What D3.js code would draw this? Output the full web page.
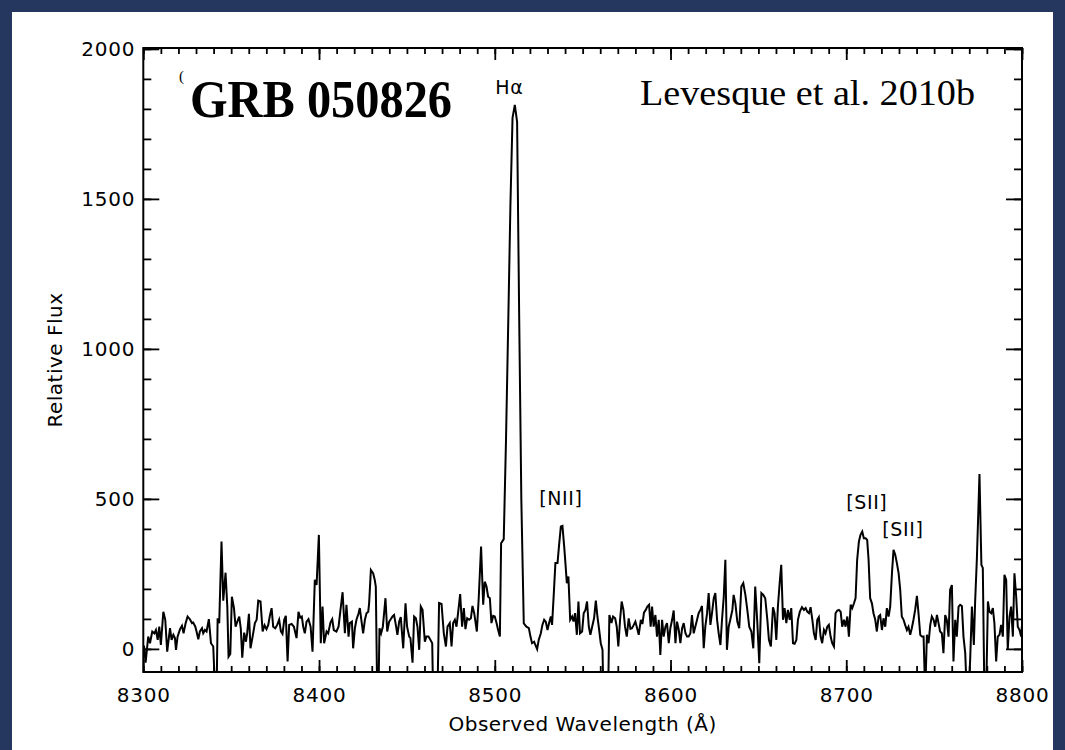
<!DOCTYPE html>
<html><head><meta charset="utf-8">
<script src="https://cdn.jsdelivr.net/npm/d3@7"></script>
<style>body{margin:0;background:#25365f;} svg{display:block}</style>
</head><body>
<svg id="c" width="1065" height="750"></svg>
<script>
// Observed wavelength (Å) of each traced vertex
const wavelength = [
8300.4,8301.3,8302.8,8303.8,8305.1,8306.3,8307.2,8308.2,8309.1,8310.0,8311.4,8312.5,8313.6,8315.2,8316.1,8317.1,8318.0,8318.6,8319.5,8320.9,
8322.0,8322.9,8324.1,8325.2,8326.5,8327.7,8328.4,8329.6,8330.3,8331.3,8332.2,8333.4,8334.1,8335.1,8336.0,8337.3,8338.5,8339.8,8340.9,8341.7,
8342.3,8343.2,8344.5,8345.5,8346.8,8347.8,8348.5,8349.5,8350.4,8351.6,8352.5,8353.5,8354.6,8355.5,8356.3,8357.4,8358.4,8359.1,8360.1,8361.0,
8362.2,8363.5,8364.5,8365.4,8366.7,8367.9,8369.0,8370.1,8371.1,8372.0,8373.0,8373.9,8375.1,8376.2,8377.3,8378.3,8379.2,8380.2,8381.1,8382.1,
8383.0,8384.4,8385.7,8387.2,8388.3,8389.3,8390.2,8391.0,8391.9,8392.9,8394.0,8395.2,8396.3,8397.6,8398.6,8399.9,8401.0,8402.0,8402.9,8404.3,
8405.2,8406.5,8407.5,8408.4,8409.9,8411.1,8412.2,8413.4,8414.7,8415.6,8416.8,8417.5,8418.7,8419.4,8420.4,8421.3,8422.5,8423.2,8424.2,8425.1,
8426.1,8427.0,8428.0,8428.5,8429.5,8430.8,8431.7,8432.3,8433.1,8433.8,8434.4,8435.3,8436.3,8437.1,8437.8,8438.8,8439.9,8440.8,8441.8,8442.7,
8443.7,8444.6,8445.6,8446.5,8447.9,8449.2,8450.1,8451.3,8452.0,8453.2,8454.1,8455.1,8456.0,8457.0,8457.9,8458.9,8460.2,8461.1,8462.3,8463.4,
8464.4,8464.9,8467.4,8468.3,8469.7,8471.0,8472.2,8473.1,8474.4,8475.4,8476.3,8477.3,8478.2,8479.2,8480.3,8481.4,8482.4,8483.3,8484.3,8485.4,
8486.4,8487.3,8488.3,8489.8,8490.9,8492.2,8493.4,8494.3,8495.3,8496.2,8497.2,8498.1,8499.1,8500.0,8501.0,8501.9,8502.9,8503.6,8505.1,8506.4,
8507.7,8508.9,8510.1,8511.4,8512.7,8513.9,8515.1,8516.5,8518.0,8519.4,8520.3,8521.2,8522.4,8523.1,8524.1,8525.0,8526.2,8527.1,8528.1,8529.0,
8530.0,8530.9,8531.9,8532.6,8533.6,8534.5,8535.7,8536.6,8537.6,8538.5,8539.5,8540.2,8541.0,8541.9,8542.9,8544.0,8544.8,8545.7,8546.7,8547.6,
8548.5,8549.7,8550.6,8551.6,8552.5,8553.5,8554.4,8555.4,8556.5,8557.5,8558.4,8559.4,8560.3,8561.3,8561.8,8564.5,8565.2,8566.4,8567.3,8568.5,
8569.4,8570.3,8571.3,8572.2,8573.2,8574.1,8575.1,8576.2,8577.2,8578.1,8579.1,8580.0,8581.0,8581.9,8583.1,8584.0,8584.9,8585.9,8586.8,8587.8,
8588.7,8589.5,8590.4,8591.4,8592.3,8593.3,8594.2,8595.2,8596.1,8597.1,8598.0,8599.0,8599.9,8600.9,8601.8,8602.8,8603.7,8604.7,8605.6,8606.6,
8607.5,8608.5,8609.4,8610.3,8611.3,8612.2,8613.2,8614.1,8615.1,8616.0,8617.0,8617.9,8618.9,8619.8,8620.8,8621.7,8622.7,8623.6,8624.6,8625.5,
8626.5,8627.4,8628.4,8629.3,8630.3,8631.2,8632.1,8633.1,8634.0,8635.2,8635.9,8636.9,8638.0,8639.1,8640.3,8641.4,8642.6,8643.7,8644.8,8646.0,
8647.1,8648.2,8649.4,8650.5,8651.7,8652.8,8653.9,8655.1,8656.0,8657.1,8658.3,8659.2,8660.2,8661.1,8662.1,8663.0,8664.0,8664.9,8665.9,8666.8,
8667.8,8668.7,8669.7,8670.6,8671.6,8672.5,8673.6,8674.8,8675.9,8676.9,8677.8,8678.8,8679.7,8680.7,8681.6,8682.6,8683.5,8684.4,8685.4,8686.3,
8687.3,8688.2,8689.2,8690.1,8691.1,8692.0,8693.0,8693.9,8694.9,8695.8,8696.8,8697.7,8698.7,8699.6,8700.6,8701.5,8702.5,8703.4,8704.4,8705.3,
8706.2,8707.2,8708.1,8709.1,8710.0,8711.0,8711.9,8712.7,8713.6,8714.6,8715.5,8716.5,8717.4,8718.4,8719.3,8720.3,8721.2,8722.2,8723.1,8724.1,
8725.0,8726.0,8726.9,8727.9,8728.8,8729.8,8730.7,8731.6,8732.6,8733.5,8734.5,8735.4,8736.4,8737.3,8738.3,8739.2,8740.2,8741.1,8742.1,8743.0,
8744.0,8744.9,8745.9,8746.8,8747.8,8748.7,8749.7,8750.6,8751.6,8752.5,8753.4,8754.4,8755.3,8756.3,8757.2,8758.2,8759.1,8760.1,8761.0,8762.0,
8762.9,8763.9,8764.8,8765.8,8766.7,8767.7,8768.6,8769.6,8770.5,8771.5,8772.6,8773.3,8774.3,8775.8,8776.9,8777.7,8778.6,8779.6,8780.6,8781.5,
8782.5,8783.4,8784.3,8785.3,8786.2,8787.2,8788.1,8789.1,8790.0,8791.0,8791.9,8792.9,8793.8,8794.8,8795.7,8796.7,8797.6,8798.6,8799.5,8800.0
];
// Relative flux at each vertex
const flux = [
11,-46,41,19,58,52,63,30,74,13,124,97,-9,69,30,47,36,-3,41,66,
77,52,86,108,99,86,88,74,58,32,58,69,52,63,58,99,19,8,-150,-150,
102,86,358,161,254,141,-26,-17,174,136,74,91,108,66,-29,54,24,52,117,2,
41,86,97,161,158,58,79,66,80,110,136,74,69,80,97,58,50,97,110,-42,
80,83,74,36,124,104,108,74,52,91,99,74,-9,230,213,380,19,141,19,58,
52,88,99,63,58,74,130,189,52,147,41,86,91,2,69,97,119,136,91,52,
97,119,124,152,263,252,230,208,-150,-150,69,52,74,124,169,58,91,99,108,113,
80,47,91,106,2,152,74,41,36,-46,108,102,74,-3,141,130,24,41,41,30,
19,-150,-150,153,150,52,8,74,86,8,86,97,74,124,183,74,136,66,102,97,
102,143,119,58,174,341,147,224,208,174,169,86,110,108,86,63,41,352,366,700,
1100,1480,1770,1813,1757,1100,500,85,74,69,41,19,24,13,-1,30,52,80,97,91,
63,86,108,80,186,286,286,347,408,410,341,286,219,241,97,108,91,119,47,158,
52,58,119,130,158,74,47,74,102,161,108,63,19,-3,-150,-150,113,86,108,102,
74,8,97,158,130,74,41,102,67,69,80,91,69,47,97,83,121,130,141,147,
74,141,74,113,41,97,-20,97,41,74,86,19,69,97,128,19,91,63,19,69,
86,52,41,41,52,113,52,74,97,119,130,143,2,74,119,186,80,119,169,186,
97,52,13,97,174,297,-3,74,97,130,180,152,91,69,208,219,180,130,74,58,
2,208,86,-48,186,180,169,97,30,8,139,119,30,141,219,280,97,136,86,130,
97,136,19,17,30,97,124,139,130,136,124,119,139,97,52,30,97,106,41,19,
63,52,74,80,41,19,8,119,128,130,124,74,97,74,108,41,147,136,152,169,
297,358,380,391,369,369,363,297,169,152,119,97,58,108,113,63,102,74,136,108,
141,252,330,313,286,252,197,108,97,80,63,74,47,69,99,130,177,119,47,41,
41,-150,47,19,80,108,97,74,113,86,58,52,-14,113,97,41,197,213,-42,97,
41,141,147,143,41,-14,-150,-150,-37,141,13,152,297,583,280,270,-150,-150,158,124,
119,136,86,-42,41,47,80,41,247,230,-3,108,141,41,252,174,74,63,41,80
];
const xMajorTicks = [8300, 8400, 8500, 8600, 8700, 8800];
const yMajorTicks = [0, 500, 1000, 1500, 2000];
const lineNames = ["Hα", "[NII]", "[SII]", "[SII]"];
const lineNameWave = [8508.3, 8537.6, 8711.7, 8732.2];
const lineNameFlux = [1873, 503, 489, 400];

const svg = d3.select("#c");
const W = 1065, H = 750;
svg.append("rect").attr("x", 0).attr("y", 0).attr("width", W).attr("height", H).attr("fill", "#25365f");
svg.append("rect").attr("x", 12).attr("y", 12).attr("width", 1041).attr("height", H - 12).attr("fill", "#ffffff");

const L = 143.3, R = 1022, T = 48, B = 672;
const x = d3.scaleLinear().domain([8300, 8800]).range([L, R]);
const y = d3.scaleLinear().domain([-77, 2003]).range([B, T]);

const font = "'DejaVu Sans', sans-serif";

svg.append("clipPath").attr("id", "clip").append("rect")
  .attr("x", L).attr("y", T).attr("width", R - L).attr("height", B - T);

const pts = wavelength.map((w, i) => [w, flux[i]]);
svg.append("path").datum(pts)
  .attr("clip-path", "url(#clip)")
  .attr("fill", "none").attr("stroke", "#000").attr("stroke-width", 2)
  .attr("stroke-linejoin", "miter")
  .attr("d", d3.line().x(d => x(d[0])).y(d => y(d[1])));

function styleAxis(g) {
  g.select(".domain").remove();
  g.selectAll(".tick line").attr("stroke", "#000").attr("stroke-width", 1.8);
  g.selectAll("text").attr("fill", "#000").style("font-family", font)
    .style("font-size", "20px").style("letter-spacing", "0.8px");
}
const xMinor = d3.range(8300, 8801, 10);
const yMinor = d3.range(0, 2001, 100);

// bottom
svg.append("g").attr("transform", `translate(0,${B})`)
  .call(d3.axisBottom(x).tickValues(xMinor).tickSize(-6).tickFormat("")).call(styleAxis);
svg.append("g").attr("transform", `translate(0,${B})`)
  .call(d3.axisBottom(x).tickValues(xMajorTicks).tickSize(-12).tickPadding(16).tickFormat(d3.format("d")))
  .call(styleAxis);
// top
svg.append("g").attr("transform", `translate(0,${T})`)
  .call(d3.axisTop(x).tickValues(xMinor).tickSize(-6).tickFormat("")).call(styleAxis);
svg.append("g").attr("transform", `translate(0,${T})`)
  .call(d3.axisTop(x).tickValues(xMajorTicks).tickSize(-12).tickFormat("")).call(styleAxis);
// left
svg.append("g").attr("transform", `translate(${L},0)`)
  .call(d3.axisLeft(y).tickValues(yMinor).tickSize(-8).tickFormat("")).call(styleAxis);
svg.append("g").attr("transform", `translate(${L},0)`)
  .call(d3.axisLeft(y).tickValues(yMajorTicks).tickSize(-16).tickPadding(8).tickFormat(d3.format("d")))
  .call(styleAxis);
// right
svg.append("g").attr("transform", `translate(${R},0)`)
  .call(d3.axisRight(y).tickValues(yMinor).tickSize(-8).tickFormat("")).call(styleAxis);
svg.append("g").attr("transform", `translate(${R},0)`)
  .call(d3.axisRight(y).tickValues(yMajorTicks).tickSize(-16).tickFormat("")).call(styleAxis);

svg.append("rect").attr("x", L).attr("y", T).attr("width", R - L).attr("height", B - T)
  .attr("fill", "none").attr("stroke", "#000").attr("stroke-width", 2);

// axis titles
svg.append("text").attr("x", (L + R) / 2).attr("y", 731).attr("text-anchor", "middle")
  .style("font-family", font).style("font-size", "20px").style("letter-spacing", "0.5px")
  .text("Observed Wavelength (Å)");
svg.append("text").attr("transform", `translate(62,${(T + B) / 2}) rotate(-90)`).attr("text-anchor", "middle")
  .style("font-family", font).style("font-size", "20px").style("letter-spacing", "0.5px")
  .text("Relative Flux");

// line identifications
lineNames.forEach((t, i) => {
  svg.append("text").attr("x", x(lineNameWave[i])).attr("y", y(lineNameFlux[i]))
    .attr("text-anchor", "middle").attr("dominant-baseline", "central")
    .style("font-family", font).style("font-size", "19px").style("letter-spacing", "0.6px")
    .text(t);
});

// titles
svg.append("text").attr("x", 179).attr("y", 81)
  .style("font-family", "'Liberation Serif', serif").style("font-size", "15px").text("(");
svg.append("text").attr("x", 190).attr("y", 117)
  .attr("textLength", 262).attr("lengthAdjust", "spacingAndGlyphs")
  .style("font-family", "'Liberation Serif', serif").style("font-weight", "bold").style("font-size", "53px")
  .text("GRB 050826");
svg.append("text").attr("x", 640).attr("y", 105)
  .attr("textLength", 335).attr("lengthAdjust", "spacingAndGlyphs")
  .style("font-family", "'Liberation Serif', serif").style("font-size", "35px")
  .text("Levesque et al. 2010b");
</script>
</body></html>
